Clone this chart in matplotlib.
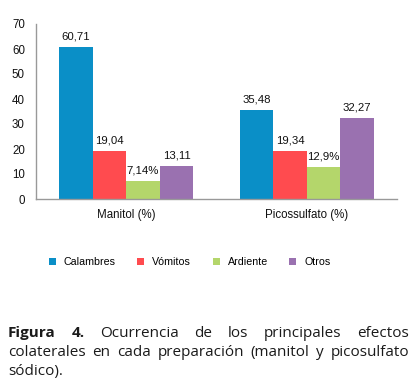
import matplotlib
matplotlib.use("Agg")
import matplotlib.pyplot as plt
import numpy as np

categories = ["Manitol (%)", "Picossulfato (%)"]
series_names = ["Calambres", "Vómitos", "Ardiente", "Otros"]
values = {
    "Calambres": [60.71, 35.48],
    "Vómitos": [19.04, 19.34],
    "Ardiente": [7.14, 12.9],
    "Otros": [13.11, 32.27],
}
value_labels = {
    "Calambres": ["60,71", "35,48"],
    "Vómitos": ["19,04", "19,34"],
    "Ardiente": ["7,14%", "12,9%"],
    "Otros": ["13,11", "32,27"],
}
colors = ["#0A8FC7", "#FF4B4F", "#B4D66B", "#9A71B0"]
yticks = [0, 10, 20, 30, 40, 50, 60, 70]

plt.rcParams['font.family'] = ['Liberation Sans', 'DejaVu Sans']

W, H = 419, 387
fig = plt.figure(figsize=(W / 100, H / 100), dpi=100)
ax = fig.add_axes([36 / W, 1 - 199 / H, (397 - 36) / W, (199 - 24) / H])

x = np.arange(len(categories))
bw = 0.186
n = len(series_names)
for i, name in enumerate(series_names):
    pos = x + (i - (n - 1) / 2) * bw
    bars = ax.bar(pos, values[name], width=bw, color=colors[i], label=name, zorder=2)
    for b, lab in zip(bars, value_labels[name]):
        ax.annotate(lab, (b.get_x() + b.get_width() / 2, b.get_height()),
                    xytext=(0, 4), textcoords="offset points",
                    ha="center", va="bottom", fontsize=8.2, color="#111111")

ax.set_xlim(-0.5, 1.5)
ax.set_ylim(0, 70)
ax.set_yticks(yticks)
ax.set_xticks(x)
ax.set_xticklabels(categories)
ax.tick_params(axis="both", length=0, labelsize=8.3, colors="#111111")
ax.tick_params(axis="y", pad=8)
ax.tick_params(axis="x", pad=7)
for s in ["top", "right"]:
    ax.spines[s].set_visible(False)
for s in ["left", "bottom"]:
    ax.spines[s].set_color("#999999")
    ax.spines[s].set_linewidth(1.0)

fig.legend(loc="center left", bbox_to_anchor=(49 / W, 1 - 262 / H), ncol=4,
           frameon=False, fontsize=7.7, handlelength=0.65, handleheight=0.65,
           handletextpad=0.75, columnspacing=2.0, borderaxespad=0, borderpad=0)

# Caption (justified)
cap_font = ['Open Sans', 'DejaVu Sans']
cap_size = 11
left_px, right_px = 8, 409
lines = [
    ([("Figura", "bold"), ("4.", "bold"), ("Ocurrencia", "normal"), ("de", "normal"),
      ("los", "normal"), ("principales", "normal"), ("efectos", "normal")], True, 337),
    ([(w, "normal") for w in "colaterales en cada preparación (manitol y picosulfato".split()], True, 356),
    ([("sódico).", "normal")], False, 374.5),
]
renderer = fig.canvas.get_renderer()
for words, justify, base in lines:
    texts = []
    for w, weight in words:
        t = fig.text(0, 1 - base / H, w, fontsize=cap_size, fontweight=weight,
                     family=cap_font, ha="left", va="baseline", color="#1a1a1a")
        texts.append(t)
    widths = [t.get_window_extent(renderer).width for t in texts]
    if justify and len(texts) > 1:
        gap = ((right_px - left_px) - sum(widths)) / (len(texts) - 1)
    else:
        gap = 4
    cur = left_px
    for t, w in zip(texts, widths):
        t.set_x(cur / W)
        cur += w + gap

fig.savefig("out.png", dpi=100)
